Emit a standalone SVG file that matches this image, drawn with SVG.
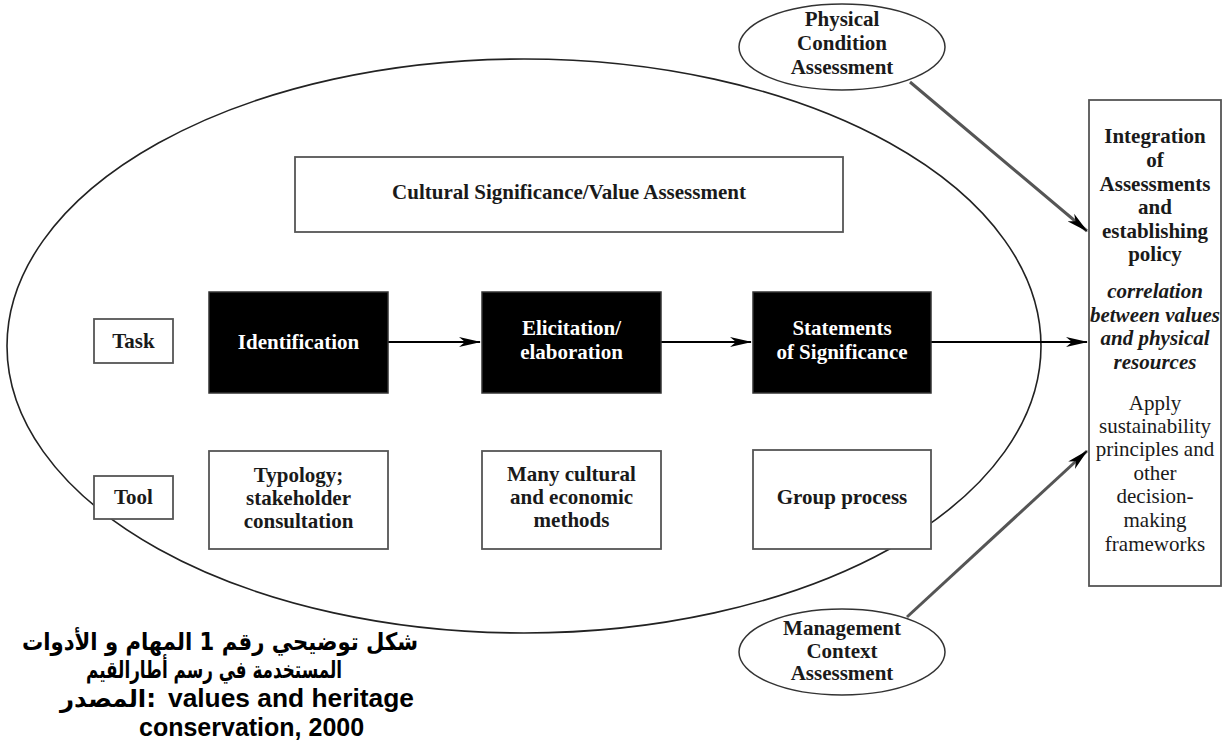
<svg xmlns="http://www.w3.org/2000/svg" width="1228" height="752" viewBox="0 0 1228 752">
<defs>
<style>
.box{fill:#fff;stroke:#555;stroke-width:1.8}
.blk{fill:#000;stroke:#333;stroke-width:1.5}
.ell{fill:#fff;stroke:#333;stroke-width:1.5}
.big{fill:none;stroke:#222;stroke-width:1.6}
.t{font-family:"Liberation Serif","Times New Roman",serif;font-size:21px;font-weight:bold;fill:#1a1a1a;text-anchor:middle}
.w{fill:#fff}
.it{font-style:italic}
.rg{font-weight:normal}
.cap{font-family:"Liberation Sans","DejaVu Sans",sans-serif;font-size:25px;font-weight:bold;fill:#000}
.ar{font-family:"DejaVu Sans",sans-serif;font-size:24px;font-weight:bold;fill:#000}
.c{fill:none;stroke:#000;stroke-width:2}
.g{fill:none;stroke:#555;stroke-width:3}
</style>
<marker id="ah" viewBox="0 0 22 12" refX="21" refY="6" markerWidth="22" markerHeight="12" markerUnits="userSpaceOnUse" orient="auto">
<path d="M0,1 L22,6 L0,11 L6,6 Z" fill="#000"/>
</marker>
</defs>
<rect width="1228" height="752" fill="#fff"/>

<g id="outer-ellipse">
<ellipse class="big" cx="524" cy="346" rx="517" ry="287"/>
</g>

<g id="connectors">
<line class="c" x1="388" y1="342" x2="480" y2="342" marker-end="url(#ah)"/>
<line class="c" x1="661" y1="342" x2="751" y2="342" marker-end="url(#ah)"/>
<line class="c" x1="931" y1="342" x2="1087" y2="342" marker-end="url(#ah)"/>
<line class="g" x1="910" y1="82" x2="1087" y2="231" marker-end="url(#ah)"/>
<line class="g" x1="907" y1="617" x2="1087" y2="451" marker-end="url(#ah)"/>
</g>

<g id="cultural">
<rect class="box" x="295" y="157" width="548" height="75"/>
<text class="t" x="569" y="199">Cultural Significance/Value Assessment</text>
</g>

<g id="task">
<rect class="box" x="94" y="319" width="79" height="44"/>
<text class="t" x="133.5" y="348">Task</text>
</g>

<g id="tool">
<rect class="box" x="94" y="476" width="79" height="43"/>
<text class="t" x="133.5" y="504">Tool</text>
</g>

<g id="identification">
<rect class="blk" x="209" y="292" width="179" height="101"/>
<text class="t w" x="298.5" y="349">Identification</text>
</g>

<g id="elicitation">
<rect class="blk" x="482" y="292" width="179" height="101"/>
<text class="t w" x="571.5" y="335">Elicitation/</text>
<text class="t w" x="571.5" y="359">elaboration</text>
</g>

<g id="statements">
<rect class="blk" x="753" y="292" width="178" height="101"/>
<text class="t w" x="842" y="335">Statements</text>
<text class="t w" x="842" y="359">of Significance</text>
</g>

<g id="typology">
<rect class="box" x="209" y="451" width="179" height="98"/>
<text class="t" x="298.5" y="482">Typology;</text>
<text class="t" x="298.5" y="505">stakeholder</text>
<text class="t" x="298.5" y="528">consultation</text>
</g>

<g id="many-cultural">
<rect class="box" x="482" y="451" width="179" height="98"/>
<text class="t" x="571.5" y="481">Many cultural</text>
<text class="t" x="571.5" y="504">and economic</text>
<text class="t" x="571.5" y="527">methods</text>
</g>

<g id="group-process">
<rect class="box" x="753" y="450" width="178" height="99"/>
<text class="t" x="842" y="504">Group process</text>
</g>

<g id="physical">
<ellipse class="ell" cx="842" cy="47" rx="103" ry="43"/>
<text class="t" x="842" y="26">Physical</text>
<text class="t" x="842" y="50">Condition</text>
<text class="t" x="842" y="74">Assessment</text>
</g>

<g id="management">
<ellipse class="ell" cx="842" cy="652" rx="103" ry="43"/>
<text class="t" x="842" y="635">Management</text>
<text class="t" x="842" y="658">Context</text>
<text class="t" x="842" y="680">Assessment</text>
</g>

<g id="integration">
<rect class="box" x="1089" y="100" width="132" height="486"/>
<text class="t" x="1155" y="143">Integration</text>
<text class="t" x="1155" y="167">of</text>
<text class="t" x="1155" y="191">Assessments</text>
<text class="t" x="1155" y="214">and</text>
<text class="t" x="1155" y="238">establishing</text>
<text class="t" x="1155" y="261">policy</text>
<text class="t it" x="1155" y="298">correlation</text>
<text class="t it" x="1155" y="322">between values</text>
<text class="t it" x="1155" y="345">and physical</text>
<text class="t it" x="1155" y="369">resources</text>
<text class="t rg" x="1155" y="410">Apply</text>
<text class="t rg" x="1155" y="433">sustainability</text>
<text class="t rg" x="1155" y="456">principles and</text>
<text class="t rg" x="1155" y="480">other</text>
<text class="t rg" x="1155" y="503">decision-</text>
<text class="t rg" x="1155" y="527">making</text>
<text class="t rg" x="1155" y="551">frameworks</text>
</g>

<g id="caption">
<text class="ar" x="22" y="650" textLength="396" lengthAdjust="spacingAndGlyphs">شكل توضيحي رقم 1 المهام و الأدوات</text>
<text class="ar" x="86" y="678" textLength="256" lengthAdjust="spacingAndGlyphs">المستخدمة في رسم أطارالقيم</text>
<text class="ar" x="60" y="707" textLength="96" lengthAdjust="spacingAndGlyphs">المصدر:</text>
<text class="cap" x="168" y="707" textLength="246" lengthAdjust="spacingAndGlyphs">values and heritage</text>
<text class="cap" x="139" y="736">conservation, 2000</text>
</g>
</svg>
